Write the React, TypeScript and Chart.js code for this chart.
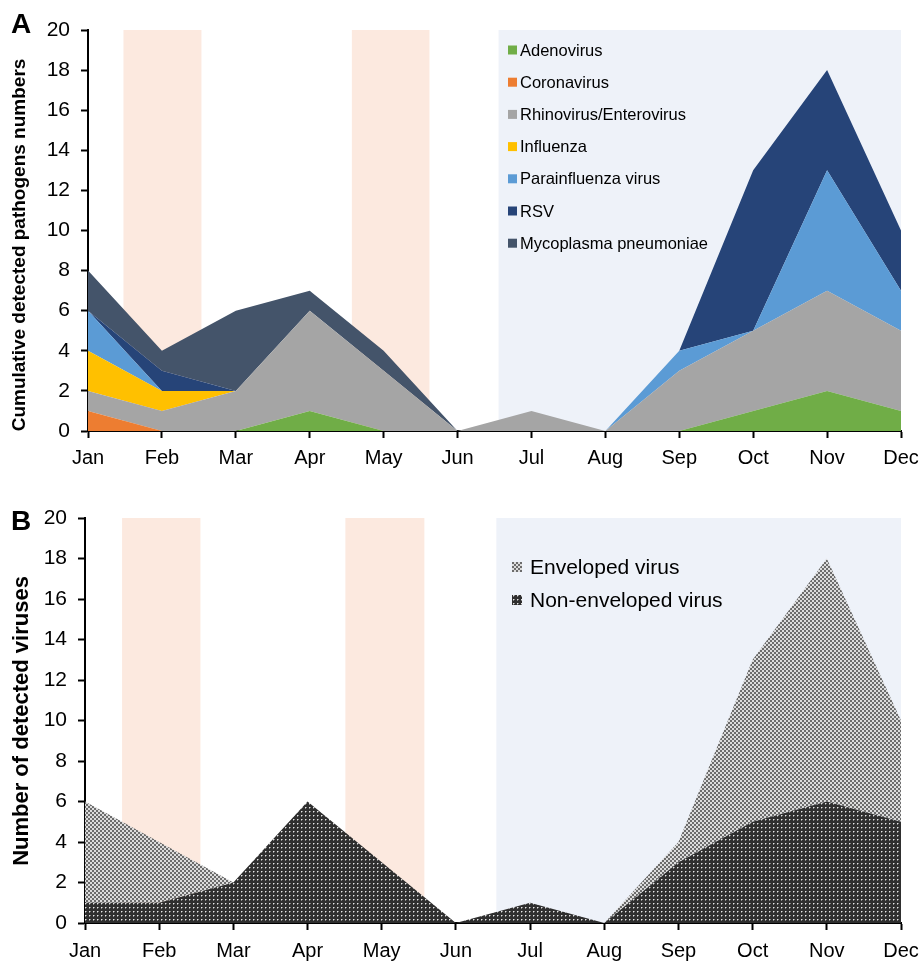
import React, { useEffect, useRef } from "react";
import { Chart, registerables } from "chart.js";

Chart.register(...registerables);

// ---------- data ----------
const months = ["Jan", "Feb", "Mar", "Apr", "May", "Jun", "Jul", "Aug", "Sep", "Oct", "Nov", "Dec"];

// Panel A (stacked, bottom to top)
const adenovirus = [0, 0, 0, 1, 0, 0, 0, 0, 0, 1, 2, 1];
const coronavirus = [1, 0, 0, 0, 0, 0, 0, 0, 0, 0, 0, 0];
const rhinovirus = [1, 1, 2, 5, 3, 0, 1, 0, 3, 4, 5, 4];
const influenza = [2, 1, 0, 0, 0, 0, 0, 0, 0, 0, 0, 0];
const parainfluenza = [2, 0, 0, 0, 0, 0, 0, 0, 1, 0, 6, 2];
const rsv = [0, 1, 0, 0, 0, 0, 0, 0, 0, 8, 5, 3];
const mycoplasma = [2, 1, 4, 1, 1, 0, 0, 0, 0, 0, 0, 0];

const seriesNamesA = [
  "Adenovirus",
  "Coronavirus",
  "Rhinovirus/Enterovirus",
  "Influenza",
  "Parainfluenza virus",
  "RSV",
  "Mycoplasma pneumoniae",
];

// Panel B (stacked, bottom to top)
const nonEnveloped = [1, 1, 2, 6, 3, 0, 1, 0, 3, 5, 6, 5];
const enveloped = [5, 3, 0, 0, 0, 0, 0, 0, 1, 8, 12, 5];

// shaded periods, in month-index units [from, to]
const pinkPeriodsA = [[0.48, 1.535], [3.57, 4.62]];
const bluePeriodA = [5.555, 11];
const pinkPeriodsB = [[0.5, 1.556], [3.51, 4.575]];
const bluePeriodB = [5.545, 11];

const yMin = 0;
const yMax = 20;
const yStep = 2;

// ---------- styles ----------
const FONT = "'Liberation Sans', Arial, Helvetica, sans-serif";
const colorsA = ["#70AD47", "#ED7D31", "#A5A5A5", "#FFC000", "#5B9BD5", "#264478", "#44546A"];
const PINK = "#FCE9DF";
const BLUE = "#EEF2F9";

function makePattern(kind: "env" | "nonenv"): CanvasPattern | string {
  const c = document.createElement("canvas");
  c.width = 4;
  c.height = 4;
  const g = c.getContext("2d");
  if (!g) return "#888";
  if (kind === "env") {
    for (let i = 0; i < 4; i++) {
      for (let j = 0; j < 4; j++) {
        const dark = (Math.floor(i / 2) + Math.floor(j / 2)) % 2 === 0;
        g.fillStyle = dark ? "#6c6c6c" : "#dcdcdc";
        g.fillRect(i, j, 1, 1);
      }
    }
  } else {
    g.fillStyle = "#2f2f2f";
    g.fillRect(0, 0, 4, 4);
    g.fillStyle = "#e6e6e6";
    g.fillRect(1, 1, 1, 1);
    g.fillStyle = "#858585";
    g.fillRect(2, 1, 1, 1);
    g.fillRect(1, 2, 1, 1);
  }
  const p = g.createPattern(c, "repeat");
  return p || "#888";
}

type Deco = {
  pinks: number[][];
  blue: number[];
  panel: { text: string; x: number; y: number; size: number };
  yTitle: { text: string; cx: number; cy: number; size: number };
  legend: {
    items: { label: string; fill: any }[];
    boxX: number;
    textX: number;
    y0: number;
    dy: number;
    box: number;
    size: number;
  };
};

function decoPlugin(d: Deco) {
  return {
    id: "deco",
    beforeDatasetsDraw(chart: any) {
      const { ctx, scales } = chart;
      const x = scales.x;
      const y = scales.y;
      const yt = y.getPixelForValue(yMax);
      const yb = y.getPixelForValue(yMin);
      ctx.save();
      ctx.fillStyle = PINK;
      for (const p of d.pinks) {
        const x1 = x.getPixelForValue(p[0]);
        const x2 = x.getPixelForValue(p[1]);
        ctx.fillRect(x1, yt, x2 - x1, yb - yt);
      }
      ctx.fillStyle = BLUE;
      const b1 = x.getPixelForValue(d.blue[0]);
      const b2 = x.getPixelForValue(d.blue[1]);
      ctx.fillRect(b1, yt, b2 - b1, yb - yt);
      ctx.restore();
    },
    afterDraw(chart: any) {
      const { ctx } = chart;
      ctx.save();
      // panel letter
      ctx.fillStyle = "#000";
      ctx.font = `bold ${d.panel.size}px ${FONT}`;
      ctx.textAlign = "left";
      ctx.textBaseline = "alphabetic";
      ctx.fillText(d.panel.text, d.panel.x, d.panel.y);
      // y title
      ctx.save();
      ctx.translate(d.yTitle.cx, d.yTitle.cy);
      ctx.rotate(-Math.PI / 2);
      ctx.font = `bold ${d.yTitle.size}px ${FONT}`;
      ctx.textAlign = "center";
      ctx.textBaseline = "middle";
      ctx.fillText(d.yTitle.text, 0, 0);
      ctx.restore();
      // legend
      const L = d.legend;
      ctx.font = `${L.size}px ${FONT}`;
      ctx.textAlign = "left";
      ctx.textBaseline = "middle";
      L.items.forEach((it, i) => {
        const yc = L.y0 + i * L.dy;
        ctx.fillStyle = it.fill;
        ctx.fillRect(L.boxX, yc - L.box / 2, L.box, L.box);
        ctx.fillStyle = "#000";
        ctx.fillText(it.label, L.textX, yc + 1);
      });
      ctx.restore();
    },
  };
}

function axes(yWidth: number, xHeight: number, xPad: number) {
  return {
    x: {
      type: "category" as const,
      offset: false,
      z: 1,
      border: { display: true, color: "#000", width: 2 },
      grid: {
        display: true,
        drawOnChartArea: false,
        drawTicks: true,
        tickLength: 7,
        tickWidth: 2,
        tickColor: "#000",
        color: "#000",
      },
      ticks: {
        color: "#000",
        font: { family: FONT, size: 20 },
        padding: xPad,
        autoSkip: false,
        maxRotation: 0,
      },
      afterFit: (s: any) => {
        s.height = xHeight;
        s.paddingLeft = 0;
        s.paddingRight = 0;
      },
    },
    y: {
      stacked: true,
      min: yMin,
      max: yMax,
      z: 1,
      border: { display: true, color: "#000", width: 2 },
      grid: {
        display: true,
        drawOnChartArea: false,
        drawTicks: true,
        tickLength: 7,
        tickWidth: 2,
        tickColor: "#000",
        color: "#000",
      },
      ticks: {
        stepSize: yStep,
        color: "#000",
        font: { family: FONT, size: 21 },
        padding: 11,
      },
      afterFit: (s: any) => {
        s.width = yWidth;
        s.paddingTop = 0;
        s.paddingBottom = 0;
      },
    },
  };
}

export default function App() {
  const refA = useRef<HTMLCanvasElement>(null);
  const refB = useRef<HTMLCanvasElement>(null);

  useEffect(() => {
    if (!refA.current || !refB.current) return;

    const seriesA = [adenovirus, coronavirus, rhinovirus, influenza, parainfluenza, rsv, mycoplasma];
    const chartA = new Chart(refA.current, {
      type: "line",
      data: {
        labels: months,
        datasets: seriesA.map((vals, i) => ({
          label: seriesNamesA[i],
          data: vals,
          fill: i === 0 ? "origin" : "-1",
          backgroundColor: colorsA[i],
          borderColor: colorsA[i],
          borderWidth: 0,
          pointRadius: 0,
          tension: 0,
        })),
      },
      options: {
        responsive: false,
        animation: false,
        devicePixelRatio: 1,
        layout: { padding: { top: 30, right: 21, left: 0, bottom: 0 } },
        plugins: { legend: { display: false }, tooltip: { enabled: false } },
        scales: axes(88, 39, 8) as any,
      },
      plugins: [
        decoPlugin({
          pinks: pinkPeriodsA,
          blue: bluePeriodA,
          panel: { text: "A", x: 11, y: 33, size: 28 },
          yTitle: { text: "Cumulative detected pathogens numbers", cx: 20, cy: 245, size: 19 },
          legend: {
            items: seriesNamesA.map((n, i) => ({ label: n, fill: colorsA[i] })),
            boxX: 508,
            textX: 520,
            y0: 50,
            dy: 32.2,
            box: 9,
            size: 16.5,
          },
        }),
      ],
    });

    const envPat = makePattern("env");
    const nonPat = makePattern("nonenv");
    const chartB = new Chart(refB.current, {
      type: "line",
      data: {
        labels: months,
        datasets: [
          {
            label: "Non-enveloped virus",
            data: nonEnveloped,
            fill: "origin",
            backgroundColor: nonPat as any,
            borderWidth: 0,
            pointRadius: 0,
            tension: 0,
          },
          {
            label: "Enveloped virus",
            data: enveloped,
            fill: "-1",
            backgroundColor: envPat as any,
            borderWidth: 0,
            pointRadius: 0,
            tension: 0,
          },
        ],
      },
      options: {
        responsive: false,
        animation: false,
        devicePixelRatio: 1,
        layout: { padding: { top: 48, right: 21, left: 0, bottom: 0 } },
        plugins: { legend: { display: false }, tooltip: { enabled: false } },
        scales: axes(85, 39, 9) as any,
      },
      plugins: [
        decoPlugin({
          pinks: pinkPeriodsB,
          blue: bluePeriodB,
          panel: { text: "B", x: 11, y: 60, size: 28 },
          yTitle: { text: "Number of detected viruses", cx: 22, cy: 251, size: 22 },
          legend: {
            items: [
              { label: "Enveloped virus", fill: envPat },
              { label: "Non-enveloped virus", fill: nonPat },
            ],
            boxX: 512,
            textX: 530,
            y0: 97,
            dy: 33,
            box: 10,
            size: 21,
          },
        }),
      ],
    });

    return () => {
      chartA.destroy();
      chartB.destroy();
    };
  }, []);

  return (
    <div style={{ position: "absolute", left: 0, top: 0, width: 922, height: 962, background: "#fff" }}>
      <canvas ref={refA} width={922} height={470} style={{ position: "absolute", left: 0, top: 0 }} />
      <canvas ref={refB} width={922} height={492} style={{ position: "absolute", left: 0, top: 470 }} />
    </div>
  );
}
